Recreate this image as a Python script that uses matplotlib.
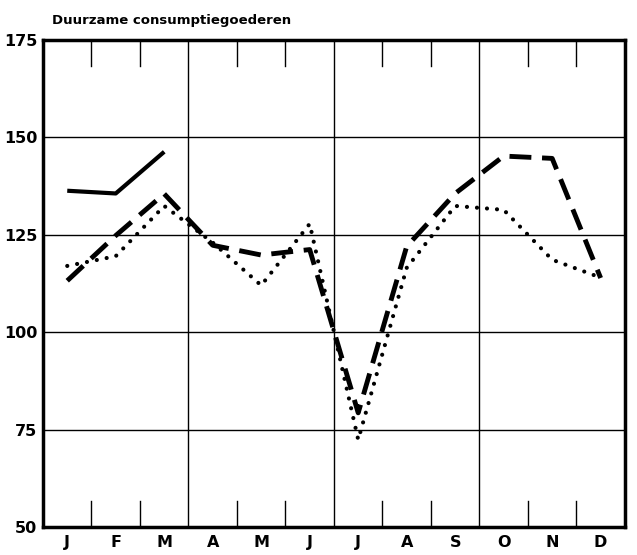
import numpy as np
import matplotlib.pyplot as plt

months = ['J', 'F', 'M', 'A', 'M', 'J', 'J', 'A', 'S', 'O', 'N', 'D']
solid = [136.3, 135.6, 146.3]
dashed = [113.2, 124.8, 135.5, 122.3, 119.8, 121.2, 79.3, 122.0, 135.6, 145.2, 144.6, 113.9]
dotted = [117.0, 119.5, 132.4, 123.0, 112.0, 127.8, 72.4, 116.5, 132.4, 131.4, 118.6, 114.0]
yticks = [50, 75, 100, 125, 150, 175]

fig = plt.figure(figsize=(6.37, 5.55), dpi=100)
ax = fig.add_axes([0.0675, 0.0505, 0.9135, 0.8775])

x = np.arange(12) + 0.5
ax.plot(x[:len(solid)], solid, '-', color='black', lw=3, solid_capstyle='butt')
ax.plot(x, dashed, color='black', lw=3.5, dashes=(4.5, 2.2), dash_capstyle='butt')
ax.plot(x, dotted, color='black', lw=3, linestyle=(0, (0.01, 2.4)), dash_capstyle='round')

ax.set_xlim(0, 12)
ax.set_ylim(50, 175)

# quarter and value grid lines
for q in [3, 6, 9]:
    ax.axvline(q, color='black', lw=1, zorder=0)
for v in yticks[1:-1]:
    ax.axhline(v, color='black', lw=1, zorder=0)

# month ticks from top and bottom
for b in range(1, 12):
    if b % 3:
        ax.plot([b, b], [50, 56.7], color='black', lw=1)
        ax.plot([b, b], [175, 168.3], color='black', lw=1)

ax.set_xticks(x)
ax.set_xticklabels(months, fontsize=11.5, fontweight='bold')
ax.set_yticks(yticks)
ax.set_yticklabels([str(v) for v in yticks], fontsize=11.5, fontweight='bold')
ax.tick_params(length=0, pad=6)
ax.tick_params(axis='y', pad=4)

for s in ax.spines.values():
    s.set_linewidth(2.5)

fig.text(0.082, 0.952, 'Duurzame consumptiegoederen', fontsize=9.5, fontweight='bold',
         ha='left', va='bottom')

plt.savefig('out.png', dpi=100)
plt.close()
